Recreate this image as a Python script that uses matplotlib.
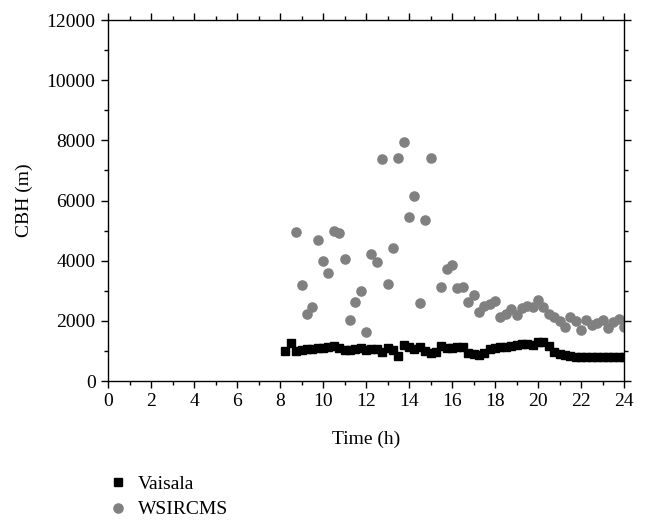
import matplotlib
matplotlib.use("Agg")
import matplotlib.pyplot as plt
from matplotlib.ticker import MultipleLocator

plt.rcParams['font.family'] = ['Liberation Serif', 'DejaVu Serif']

# Vaisala ceilometer (every 15 min)
vaisala_t = [8.25, 8.5, 8.75, 9.0, 9.25, 9.5, 9.75, 10.0, 10.25, 10.5, 10.75,
             11.0, 11.25, 11.5, 11.75, 12.0, 12.25, 12.5, 12.75, 13.0, 13.25,
             13.5, 13.75, 14.0, 14.25, 14.5, 14.75, 15.0, 15.25, 15.5, 15.75,
             16.0, 16.25, 16.5, 16.75, 17.0, 17.25, 17.5, 17.75, 18.0, 18.25,
             18.5, 18.75, 19.0, 19.25, 19.5, 19.75, 20.0, 20.25, 20.5, 20.75,
             21.0, 21.25, 21.5, 21.75, 22.0, 22.25, 22.5, 22.75, 23.0, 23.25,
             23.5, 23.75, 24.0]
vaisala_cbh = [1007, 1253, 1007, 1030, 1052, 1074, 1085, 1108, 1130, 1174, 1108,
               1030, 1030, 1074, 1108, 1030, 1052, 1074, 974, 1108, 1030,
               820, 1196, 1130, 1074, 1141, 1007, 919, 960, 1175, 1110,
               1090, 1145, 1145, 919, 890, 870, 919, 1080, 1090, 1119,
               1130, 1163, 1196, 1241, 1230, 1208, 1285, 1307, 1163, 952,
               897, 853, 820, 808, 786, 786, 786, 797, 797, 797,
               786, 786, 786]

# WSIRCMS
wsircms_t = [8.75, 9.0, 9.25, 9.5, 9.75, 10.0, 10.25, 10.5, 10.75, 11.0, 11.25,
             11.5, 11.75, 12.0, 12.25, 12.5, 12.75, 13.0, 13.25, 13.5, 13.75,
             14.0, 14.25, 14.5, 14.75, 15.0, 15.5, 15.75, 16.0, 16.25, 16.5,
             16.75, 17.0, 17.25, 17.5, 17.75, 18.0, 18.25, 18.5, 18.75, 19.0,
             19.25, 19.5, 19.75, 20.0, 20.25, 20.5, 20.75, 21.0, 21.25, 21.5,
             21.75, 22.0, 22.25, 22.5, 22.75, 23.0, 23.25, 23.5, 23.75, 24.0]
wsircms_cbh = [4963, 3191, 2227, 2470, 4687, 3978, 3579, 4986, 4909, 4045, 2017,
               2626, 3003, 1640, 4211, 3945, 7368, 3235, 4410, 7424, 7944,
               5463, 6149, 2604, 5341, 7401, 3110, 3715, 3850, 3091, 3140,
               2620, 2875, 2290, 2505, 2575, 2648, 2127, 2217, 2393, 2204,
               2416, 2493, 2460, 2682, 2470, 2227, 2137, 2004, 1785, 2117,
               2004, 1705, 2028, 1871, 1938, 2028, 1752, 1961, 2051, 1805]

fig = plt.figure(figsize=(6.47, 5.21), dpi=100)
ax = fig.add_axes([0.167, 0.2687, 0.7975, 0.6929])

ax.plot(vaisala_t, vaisala_cbh, ls='none', marker='s', ms=5.8,
        color='black', label='Vaisala')
ax.plot(wsircms_t, wsircms_cbh, ls='none', marker='o', ms=6.6,
        color='#808080', mec='#808080', label='WSIRCMS')

ax.set_xlim(0, 24)
ax.set_ylim(0, 12000)
ax.xaxis.set_major_locator(MultipleLocator(2))
ax.xaxis.set_minor_locator(MultipleLocator(1))
ax.yaxis.set_major_locator(MultipleLocator(2000))
ax.yaxis.set_minor_locator(MultipleLocator(1000))
ax.tick_params(which='both', direction='out', top=True, right=True,
               labelsize=14, width=1)
ax.tick_params(which='major', length=5)
ax.tick_params(which='minor', length=3)
ax.tick_params(axis='y', pad=4)
for s in ax.spines.values():
    s.set_linewidth(1)

ax.set_xlabel('Time (h)', fontsize=14, labelpad=15)
ax.set_ylabel('CBH (m)', fontsize=14, labelpad=10)

ax.legend(loc='upper left', bbox_to_anchor=(0.156, 0.106), bbox_transform=fig.transFigure,
          frameon=False, fontsize=14, handlelength=0.8, handletextpad=0.6,
          labelspacing=0.4, borderpad=0)

fig.savefig('out.png', dpi=100)
